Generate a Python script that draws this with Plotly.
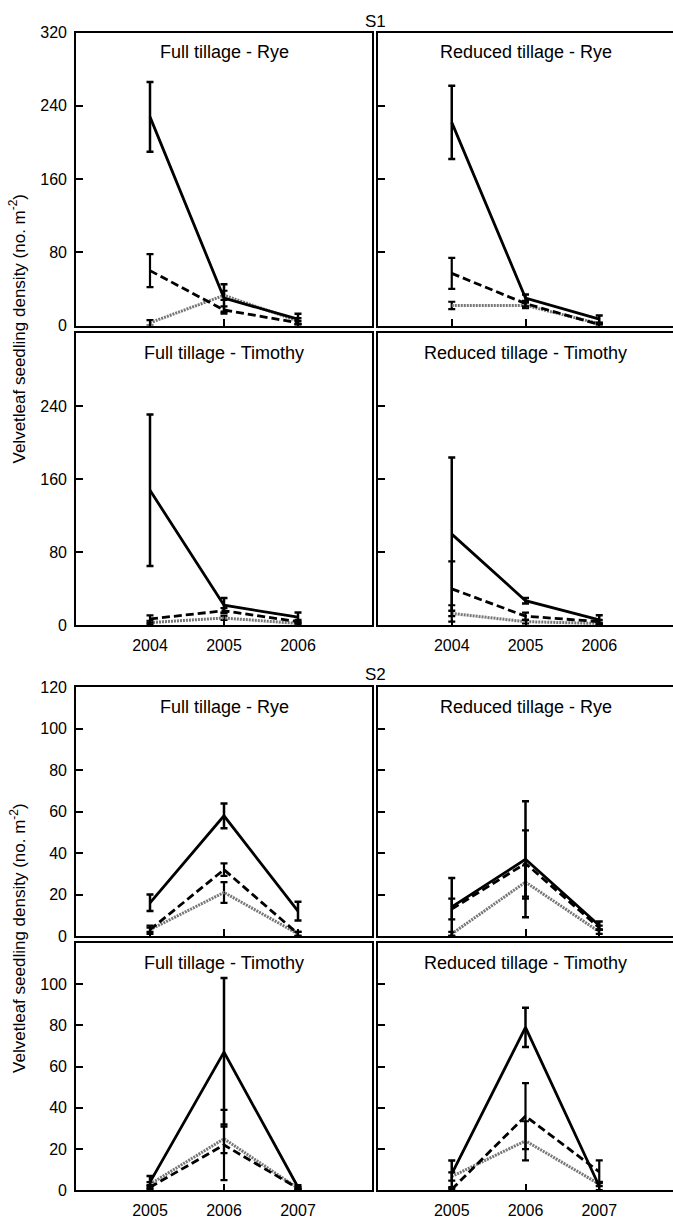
import plotly.graph_objects as go

# ---------------- data ----------------
years_s1 = [2004, 2005, 2006]
years_s2 = [2005, 2006, 2007]
s1_ticks_row1 = [0, 80, 160, 240, 320]
s1_ticks_row2 = [0, 80, 160, 240]
s2_ticks_row1 = [0, 20, 40, 60, 80, 100, 120]
s2_ticks_row2 = [0, 20, 40, 60, 80, 100]
panel_titles = ["Full tillage - Rye", "Reduced tillage - Rye",
                "Full tillage - Timothy", "Reduced tillage - Timothy"]
series_styles = ["solid", "dashed", "dotted"]

# means per panel: [solid, dashed, dotted]; errors alike
s1_ft_rye_mean = [[228, 30, 7], [60, 17, 3], [3, 33, 5]]
s1_ft_rye_err = [[38, 15, 6], [18, 4, 2], [3, 5, 3]]
s1_rt_rye_mean = [[222, 30, 7], [57, 24, 1], [22, 22, 2]]
s1_rt_rye_err = [[40, 4, 4], [17, 3, 1], [4, 3, 1]]
s1_ft_tim_mean = [[148, 22, 9], [7, 16, 4], [3, 8, 2]]
s1_ft_tim_err = [[83, 8, 5], [4, 3, 2], [2, 2, 1]]
s1_rt_tim_mean = [[100, 27, 6], [40, 10, 4], [13, 4, 2]]
s1_rt_tim_err = [[84, 3, 5], [30, 4, 2], [9, 2, 1]]

s2_ft_rye_mean = [[16, 58, 12], [3, 32, 1], [3, 21, 1]]
s2_ft_rye_err = [[4, 6, 4.5], [2, 3, 1], [1, 5, 1]]
s2_rt_rye_mean = [[14, 37, 5], [13, 35, 4], [1, 26, 2]]
s2_rt_rye_err = [[14, 28, 2], [5, 16, 1], [1, 8, 1]]
s2_ft_tim_mean = [[4, 67, 1.5], [1.5, 22, 1], [3, 25, 1]]
s2_ft_tim_err = [[3, 36, 1], [1, 17, 0.5], [1, 7, 0.5]]
s2_rt_tim_mean = [[8, 79, 2], [0.5, 36, 9], [6.7, 24, 3]]
s2_rt_tim_err = [[6.5, 9.5, 2], [0.5, 16, 5.5], [2, 9.5, 1]]

# ---------------- layout geometry (pixels) ----------------
W, H = 673, 1224
FONT = "Liberation Sans, Arial, Helvetica, sans-serif"

def py(px):
    return 1 - px / H

xl = [76 / W, 372 / W]
xr = [378 / W, 1.0]
rows = [(25, 322), (330, 626), (689, 941), (948, 1199)]

panels = [
    # (row, col, years, xrange, yrange, yticks, showx, means, errs, title)
    (0, 0, years_s1, [2003, 2007], [0, 320], s1_ticks_row1, False, s1_ft_rye_mean, s1_ft_rye_err, panel_titles[0]),
    (0, 1, years_s1, [2003, 2007], [0, 320], s1_ticks_row1, False, s1_rt_rye_mean, s1_rt_rye_err, panel_titles[1]),
    (1, 0, years_s1, [2003, 2007], [0, 320], s1_ticks_row2, True, s1_ft_tim_mean, s1_ft_tim_err, panel_titles[2]),
    (1, 1, years_s1, [2003, 2007], [0, 320], s1_ticks_row2, True, s1_rt_tim_mean, s1_rt_tim_err, panel_titles[3]),
    (2, 0, years_s2, [2004, 2008], [0, 120], s2_ticks_row1, False, s2_ft_rye_mean, s2_ft_rye_err, panel_titles[0]),
    (2, 1, years_s2, [2004, 2008], [0, 120], s2_ticks_row1, False, s2_rt_rye_mean, s2_rt_rye_err, panel_titles[1]),
    (3, 0, years_s2, [2004, 2008], [0, 120], s2_ticks_row2, True, s2_ft_tim_mean, s2_ft_tim_err, panel_titles[2]),
    (3, 1, years_s2, [2004, 2008], [0, 120], s2_ticks_row2, True, s2_rt_tim_mean, s2_rt_tim_err, panel_titles[3]),
]

line_defs = {
    "solid": dict(color="black", width=2.8, dash="solid"),
    "dashed": dict(color="black", width=2.8, dash="8px,4px"),
    "dotted": dict(color="#777777", width=3, dash="2px,1px"),
}

fig = go.Figure()
layout = dict(
    width=W, height=H,
    margin=dict(l=0, r=0, t=0, b=0),
    paper_bgcolor="white", plot_bgcolor="white",
    showlegend=False,
    font=dict(family=FONT, size=16, color="black"),
)
annotations = []

for i, (r, c, yrs, xr_, yr_, yt, showx, means, errs, title) in enumerate(panels):
    n = i + 1
    xa = "x" if n == 1 else f"x{n}"
    ya = "y" if n == 1 else f"y{n}"
    top, bot = rows[r]
    dom_x = xl if c == 0 else xr
    dom_y = [py(bot), py(top)]
    layout["xaxis" if n == 1 else f"xaxis{n}"] = dict(
        domain=dom_x, anchor=ya, range=xr_, tickvals=yrs,
        ticktext=[str(v) for v in yrs], showticklabels=showx,
        ticks="inside", ticklen=7, tickwidth=1.5, tickcolor="black",
        showline=True, mirror=True, linecolor="black", linewidth=1.6,
        showgrid=False, zeroline=False, fixedrange=True,
        tickfont=dict(size=16, family=FONT), ticklabelstandoff=5,
    )
    layout["yaxis" if n == 1 else f"yaxis{n}"] = dict(
        domain=dom_y, anchor=xa, range=yr_, tickvals=yt,
        showticklabels=(c == 0),
        ticks="inside", ticklen=7, tickwidth=1.5, tickcolor="black",
        showline=True, mirror=(c == 0), linecolor="black", linewidth=1.6,
        showgrid=False, zeroline=False, fixedrange=True,
        tickfont=dict(size=16, family=FONT), ticklabelstandoff=4,
    )
    # draw dotted, dashed, solid (solid on top)
    for k in [2, 1, 0]:
        style = series_styles[k]
        fig.add_trace(go.Scatter(
            x=yrs, y=means[k], xaxis=xa, yaxis=ya, mode="lines",
            line=line_defs[style],
            error_y=dict(type="data", array=errs[k], visible=True,
                         color="black", thickness=2.5 if k == 0 else 2.2, width=3.5),
            hoverinfo="skip",
        ))
    cx = (76 + 372) / 2 / W if c == 0 else (378 + 673) / 2 / W
    annotations.append(dict(
        text=title, xref="paper", yref="paper",
        x=cx, y=py(top + 20), xanchor="center", yanchor="middle", showarrow=False,
        font=dict(size=18, family=FONT, color="black"),
    ))

# section labels
annotations.append(dict(text="S1", xref="paper", yref="paper", x=375 / W, y=py(14),
                        xanchor="center", yanchor="middle", showarrow=False,
                        font=dict(size=17, family=FONT)))
annotations.append(dict(text="S2", xref="paper", yref="paper", x=375 / W, y=py(676),
                        xanchor="center", yanchor="middle", showarrow=False,
                        font=dict(size=17, family=FONT)))
# y-axis titles
ytitle = "Velvetleaf seedling density (no. m<sup>-2</sup>)"
for yc in [325, 943]:
    annotations.append(dict(text=ytitle, xref="paper", yref="paper", x=18 / W, y=py(yc),
                            xanchor="center", yanchor="middle", textangle=-90,
                            showarrow=False, font=dict(size=17, family=FONT)))

layout["annotations"] = annotations
fig.update_layout(**layout)
fig.write_html("out.html")
